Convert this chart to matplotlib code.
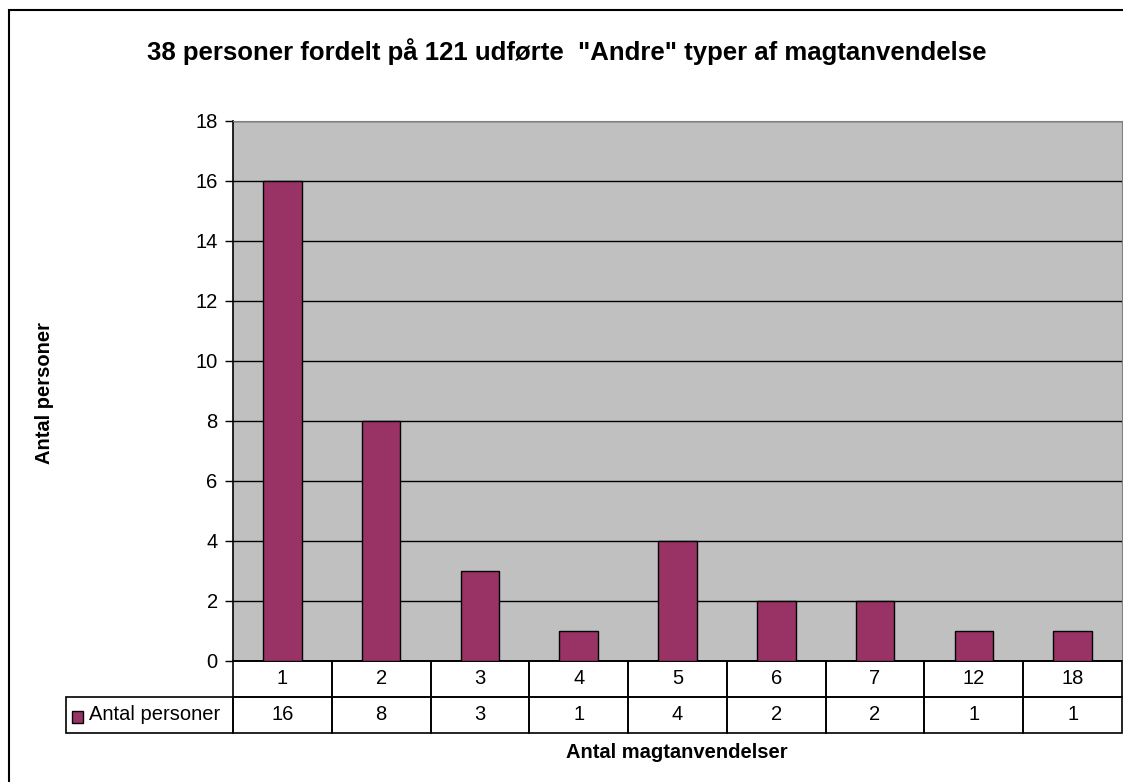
import matplotlib.pyplot as plt
from matplotlib.patches import Rectangle
import matplotlib.transforms as mtransforms

plt.rcParams['font.family'] = ['Liberation Sans', 'DejaVu Sans']

categories = ['1', '2', '3', '4', '5', '6', '7', '12', '18']
antal_personer = [16, 8, 3, 1, 4, 2, 2, 1, 1]
series_name = 'Antal personer'
title = '38 personer fordelt på 121 udførte  "Andre" typer af magtanvendelse'

bar_color = '#993366'
W, H = 1123, 782
fs = 14.5

fig = plt.figure(figsize=(W / 100, H / 100), dpi=100)
# outer chart border (right and bottom edges fall outside the image)
fig.patches.append(Rectangle((9 / W, -0.05), 1.2, 1.05 - 10 / H, transform=fig.transFigure,
                             fill=False, edgecolor='black', linewidth=1.5))

ax = fig.add_axes([233 / W, 1 - 661 / H, 889 / W, 540 / H])
ax.set_facecolor('#c0c0c0')
x = list(range(len(categories)))
ax.bar(x, antal_personer, width=0.39, color=bar_color, edgecolor='black', linewidth=1, zorder=3)
ax.set_xlim(-0.5, len(categories) - 0.5)
ax.set_ylim(0, 18)
ax.set_yticks(range(0, 19, 2))
ax.tick_params(axis='y', direction='out', length=6, width=1, labelsize=fs, pad=5)
ax.set_xticks([])
ax.yaxis.grid(True, color='black', linewidth=1, zorder=1)
ax.set_axisbelow(True)
ax.spines['right'].set_color('#808080')
ax.spines['top'].set_color('#808080')
ax.spines['left'].set_linewidth(1.2)
ax.spines['bottom'].set_linewidth(1.2)

# data table below the plot
trans = mtransforms.blended_transform_factory(ax.transData, ax.transAxes)
row_h = 36 / 540
cat_w = 889 / len(categories)
lbl_left = -0.5 - (233 - 66) / cat_w
for i, (c, v) in enumerate(zip(categories, antal_personer)):
    ax.add_patch(Rectangle((i - 0.5, -row_h), 1, row_h, transform=trans, fill=False,
                           edgecolor='black', linewidth=1.2, clip_on=False))
    ax.add_patch(Rectangle((i - 0.5, -2 * row_h), 1, row_h, transform=trans, fill=False,
                           edgecolor='black', linewidth=1.2, clip_on=False))
    ax.text(i, -row_h / 2, c, transform=trans, ha='center', va='center', fontsize=fs)
    ax.text(i, -1.5 * row_h, str(v), transform=trans, ha='center', va='center', fontsize=fs)
ax.add_patch(Rectangle((lbl_left, -2 * row_h), -0.5 - lbl_left, row_h, transform=trans,
                       fill=False, edgecolor='black', linewidth=1.2, clip_on=False))
ax.add_patch(Rectangle((lbl_left + 6 / cat_w, -1.5 * row_h - 8 / 540), 11 / cat_w, 12 / 540,
                       transform=trans, facecolor=bar_color, edgecolor='black', linewidth=1,
                       clip_on=False))
ax.text(lbl_left + 23 / cat_w, -1.5 * row_h, series_name, transform=trans, ha='left',
        va='center', fontsize=fs)

fig.text(567 / W, 1 - 52 / H, title, ha='center', va='center', fontsize=18.5, fontweight='bold')
fig.text(45 / W, 1 - 393 / H, 'Antal personer', ha='center', va='center', rotation=90,
         fontsize=fs, fontweight='bold')
fig.text(677 / W, 1 - 752 / H, 'Antal magtanvendelser', ha='center', va='center',
         fontsize=fs, fontweight='bold')

fig.savefig('out.png', dpi=100)
